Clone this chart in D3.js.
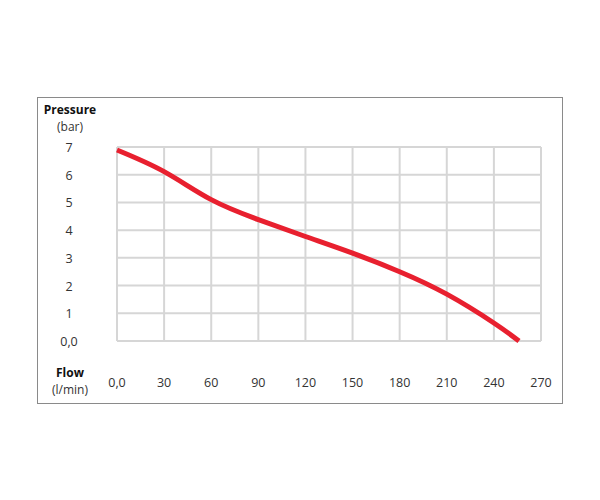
<!DOCTYPE html>
<html><head><meta charset="utf-8">
<script src="https://cdn.jsdelivr.net/npm/d3@7"></script>
<style>body{margin:0;background:#fff;}text{font-family:"Open Sans",sans-serif;}</style>
</head><body>
<svg id="c" width="600" height="500"></svg>
<script>
const flow = [0, 30, 60, 90, 120, 150, 180, 210, 240, 256];
const pressure = [6.89, 6.11, 5.1, 4.38, 3.77, 3.17, 2.5, 1.69, 0.65, 0];
const xTicks = [0, 30, 60, 90, 120, 150, 180, 210, 240, 270];
const yTicks = [0, 1, 2, 3, 4, 5, 6, 7];
const xTickLabels = ["0,0","30","60","90","120","150","180","210","240","270"];
const yTickLabels = ["0,0","1","2","3","4","5","6","7"];

const svg = d3.select("#c");
svg.append("rect").attr("x",37.5).attr("y",97.5).attr("width",525).attr("height",306)
  .attr("fill","none").attr("stroke","#8a8a8a").attr("stroke-width",1);

const x = d3.scaleLinear().domain([0,270]).range([117,541]);
const y = d3.scaleLinear().domain([0,7]).range([341,147]);

const g = svg.append("g");
g.selectAll(".vx").data(xTicks).join("line")
  .attr("x1",d=>x(d)).attr("x2",d=>x(d)).attr("y1",y(7)).attr("y2",y(0))
  .attr("stroke","#d6d6d6").attr("stroke-width",2);
g.selectAll(".hy").data(yTicks).join("line")
  .attr("y1",d=>y(d)).attr("y2",d=>y(d)).attr("x1",x(0)).attr("x2",x(270))
  .attr("stroke","#d6d6d6").attr("stroke-width",2);

svg.selectAll(".yl").data(yTicks).join("text")
  .attr("x",69).attr("y",d=>y(d)+5).attr("text-anchor","middle")
  .attr("font-size",12.5).attr("fill","#333").text((d,i)=>yTickLabels[i]);
svg.selectAll(".xl").data(xTicks).join("text")
  .attr("x",d=>x(d)).attr("y",387).attr("text-anchor","middle")
  .attr("font-size",12.5).attr("fill","#333").text((d,i)=>xTickLabels[i]);

svg.append("text").attr("x",70).attr("y",114).attr("text-anchor","middle")
  .attr("font-size",12).attr("font-weight","bold").attr("fill","#111").text("Pressure");
svg.append("text").attr("x",70).attr("y",131).attr("text-anchor","middle")
  .attr("font-size",12).attr("fill","#333").text("(bar)");
svg.append("text").attr("x",70).attr("y",377).attr("text-anchor","middle")
  .attr("font-size",12).attr("font-weight","bold").attr("fill","#111").text("Flow");
svg.append("text").attr("x",70).attr("y",394).attr("text-anchor","middle")
  .attr("font-size",12).attr("fill","#333").text("(l/min)");

const line = d3.line().x(d=>x(d[0])).y(d=>y(d[1])).curve(d3.curveNatural);
svg.append("path").datum(flow.map((f,i)=>[f,pressure[i]]))
  .attr("d",line).attr("fill","none").attr("stroke","#e8202f").attr("stroke-width",5);
</script>
</body></html>
